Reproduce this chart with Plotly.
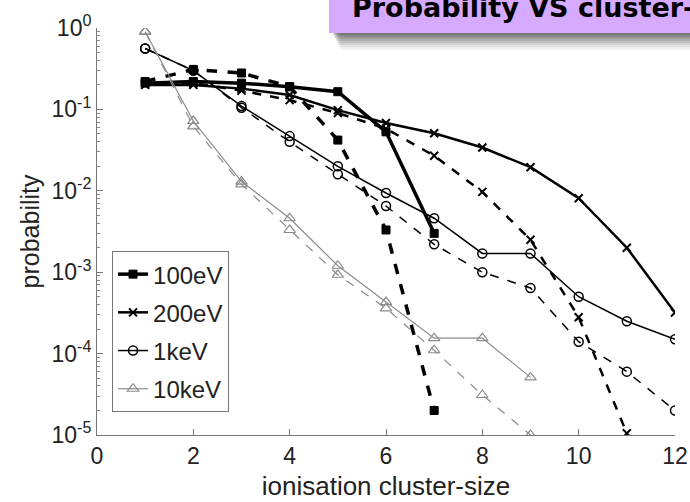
import plotly.graph_objects as go

# ---------------- data ----------------
labels = ["100eV", "200eV", "1keV", "10keV"]

x_100 = [1, 2, 3, 4, 5, 6, 7]
p_100_solid = [0.21, 0.22, 0.21, 0.19, 0.165, 0.053, 0.003]
p_100_dash = [0.22, 0.31, 0.28, 0.19, 0.042, 0.0033, 2.0e-5]

x_200_solid = [1, 2, 3, 4, 5, 6, 7, 8, 9, 10, 11, 12]
p_200_solid = [0.2, 0.2, 0.18, 0.15, 0.098, 0.068, 0.051, 0.034, 0.0195, 0.0081, 0.002, 0.00032]
x_200_dash = [1, 2, 3, 4, 5, 6, 7, 8, 9, 10, 11]
p_200_dash = [0.21, 0.21, 0.17, 0.13, 0.09, 0.058, 0.027, 0.0097, 0.0025, 0.00028, 1.05e-5]

x_1k = [1, 2, 3, 4, 5, 6, 7, 8, 9, 10, 11, 12]
p_1k_solid = [0.56, 0.3, 0.11, 0.047, 0.02, 0.0094, 0.0046, 0.0017, 0.0017, 0.0005, 0.00025, 0.00015]
p_1k_dash = [0.56, 0.3, 0.105, 0.04, 0.016, 0.0065, 0.0022, 0.001, 0.00064, 0.00014, 6e-5, 2e-5]

x_10k = [1, 2, 3, 4, 5, 6, 7, 8, 9]
p_10k_solid = [0.9, 0.072, 0.013, 0.0046, 0.0012, 0.00043, 0.000155, 0.000155, 5.1e-5]
p_10k_dash = [0.9, 0.062, 0.012, 0.0033, 0.00093, 0.00036, 0.00011, 3.1e-5, 1.0e-5]

x_ticks = [0, 2, 4, 6, 8, 10, 12]
y_ticks = [1, 0.1, 0.01, 0.001, 0.0001, 0.00001]
y_ticktext = ["10<sup>0</sup>", "10<sup>-1</sup>", "10<sup>-2</sup>", "10<sup>-3</sup>",
              "10<sup>-4</sup>", "10<sup>-5</sup>"]
y_minor = [m * 10.0 ** e for e in range(-5, 0) for m in range(2, 10)]

title_text = "Probability VS cluster-size"
x_title = "ionisation cluster-size"
y_title = "probability"

# ---------------- styles ----------------
styles = {
    "100eV": dict(color="black", width=3.5, symbol="square", msize=8, mline=1),
    "200eV": dict(color="black", width=2.5, symbol="x-thin", msize=8, mline=2),
    "1keV": dict(color="black", width=1.5, symbol="circle-open", msize=9, mline=1.5),
    "10keV": dict(color="#8a8a8a", width=1.2, symbol="triangle-up-open", msize=10, mline=1.2),
}

series = [
    ("100eV", x_100, p_100_solid, x_100, p_100_dash),
    ("200eV", x_200_solid, p_200_solid, x_200_dash, p_200_dash),
    ("1keV", x_1k, p_1k_solid, x_1k, p_1k_dash),
    ("10keV", x_10k, p_10k_solid, x_10k, p_10k_dash),
]

fig = go.Figure()
for name, xs, ys, xd, yd in series:
    s = styles[name]
    marker = dict(symbol=s["symbol"], size=s["msize"], color=s["color"],
                  line=dict(color=s["color"], width=s["mline"]))
    fig.add_trace(go.Scatter(
        x=xd, y=yd, mode="lines+markers", name=name, legendgroup=name,
        showlegend=False,
        line=dict(color=s["color"], width=s["width"], dash="dash"),
        marker=marker))
    fig.add_trace(go.Scatter(
        x=xs, y=ys, mode="lines+markers", name=name, legendgroup=name,
        showlegend=True,
        line=dict(color=s["color"], width=s["width"]),
        marker=marker))

fam = "Liberation Sans, Arial, sans-serif"
tick_font = dict(family=fam, size=23, color="#222")
title_font = dict(family=fam, size=25, color="#222")

fig.update_layout(
    width=690, height=502,
    margin=dict(l=97, r=15, t=28, b=67),
    paper_bgcolor="white", plot_bgcolor="white",
    font=tick_font,
    showlegend=True,
    legend=dict(
        x=0.026, y=0.452, xanchor="left", yanchor="top",
        bgcolor="white", bordercolor="#777", borderwidth=1,
        font=dict(family=fam, size=24, color="#222"),
        tracegroupgap=4, itemwidth=30,
    ),
    xaxis=dict(
        range=[0, 12], tickvals=x_ticks, ticktext=[str(v) for v in x_ticks],
        showline=True, linecolor="#777", linewidth=1, mirror=False,
        ticks="inside", ticklen=6, tickcolor="#777",
        showgrid=False, zeroline=False, automargin=False,
        title=dict(text=x_title, standoff=9, font=dict(family=fam, size=26, color="#222")),
        tickfont=tick_font,
    ),
    yaxis=dict(
        type="log", range=[-5, 0], tickvals=y_ticks, ticktext=y_ticktext,
        showline=True, linecolor="#777", linewidth=1, mirror=False,
        ticks="inside", ticklen=6, tickcolor="#777",
        minor=dict(tickmode="array", tickvals=y_minor, ticks="inside", ticklen=3,
                   tickcolor="#888", showgrid=False),
        showgrid=False, zeroline=False,
        title=dict(text=y_title, standoff=4, font=title_font),
        tickfont=tick_font,
    ),
)

# title banner with drop shadow (decoration)
def px_x(p):
    return (p - 97) / 578.0

def px_y(p):
    return (435 - p) / 407.0

shapes = []
for i in range(9):
    a = 0.13 - i * 0.013
    shapes.append(dict(type="rect", xref="paper", yref="paper",
                       x0=px_x(333 + i), x1=px_x(700), y0=px_y(35 + 2 * i), y1=px_y(30),
                       fillcolor=f"rgba(0,0,0,{a:.3f})", line=dict(width=0), layer="above"))
shapes.append(dict(type="rect", xref="paper", yref="paper",
                   x0=px_x(329), x1=px_x(700), y0=px_y(33), y1=px_y(-5),
                   fillcolor="#d5aaff", line=dict(width=0), layer="above"))
fig.update_layout(shapes=shapes)

fig.add_annotation(
    xref="paper", yref="paper", x=px_x(350), y=px_y(25),
    xanchor="left", yanchor="bottom", showarrow=False,
    text="<b>" + title_text + "</b>",
    font=dict(family="DejaVu Sans, Verdana, sans-serif", size=27, color="black"),
)

fig.write_html("out.html")
